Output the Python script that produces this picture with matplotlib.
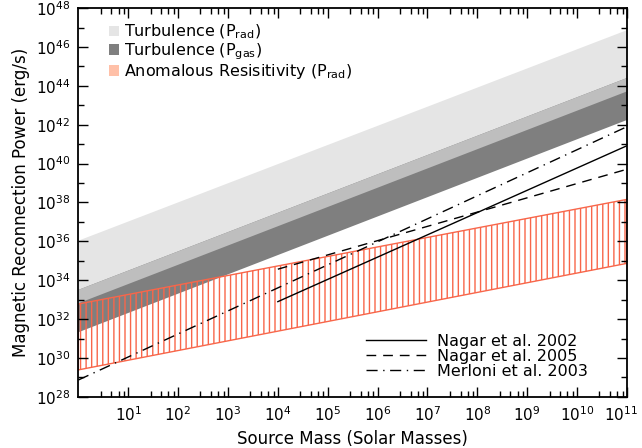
import numpy as np
import matplotlib
matplotlib.use("Agg")
import matplotlib.pyplot as plt
import matplotlib.transforms as mtransforms
from matplotlib.patches import Patch
from matplotlib.lines import Line2D
from matplotlib.ticker import LogLocator, FixedLocator, NullFormatter

# band edges, read as log10(P) at M = 1 and M = 1e11
mass_ends = [1.0, 1e11]
turb_rad_hi = [36.07, 46.9]
turb_rad_lo = [32.85, 43.75]
turb_gas_hi = [33.54, 44.44]
turb_gas_lo = [31.36, 42.28]
anom_hi = [32.78, 38.16]
anom_lo = [29.39, 34.87]

# observed correlations (log10 P)
nagar02_mass = [1e4, 1e11]
nagar02_logp = [32.90, 40.92]
nagar05_mass = [1e4, 1e11]
nagar05_logp = [34.57, 39.71]
merloni_mass = [1.0, 1e11]
merloni_logp = [28.87, 41.90]

x_labels = [r"$10^{%d}$" % k for k in range(1, 12)]
y_labels = [r"$10^{%d}$" % k for k in range(28, 49, 2)]

red = "#F8664A"
plt.rcParams["hatch.color"] = red
plt.rcParams["hatch.linewidth"] = 1.0
plt.rcParams["font.family"] = "DejaVu Sans"

fig = plt.figure(figsize=(6.42, 4.48), dpi=100)
ax = fig.add_axes([0.122, 0.114, 0.8546, 0.868])

p = lambda v: 10 ** np.array(v)

ax.fill_between(mass_ends, p(turb_rad_lo), p(turb_rad_hi), color="#E5E5E5", lw=0)
ax.fill_between(mass_ends, p(turb_gas_lo), p(turb_gas_hi), color="#7F7F7F", lw=0)
ax.fill_between(mass_ends, p(turb_rad_lo), p(turb_gas_hi), color="#BEBEBE", lw=0)
ax.fill_between(mass_ends, p(anom_lo), p(anom_hi), facecolor="none",
                edgecolor=red, hatch="|||", lw=1.0)

ax.plot(nagar02_mass, p(nagar02_logp), color="black", lw=1.0, ls="-")
ax.plot(nagar05_mass, p(nagar05_logp), color="black", lw=1.0, ls=(0, (7, 5)))
ax.plot(merloni_mass, p(merloni_logp), color="black", lw=1.0, ls=(0, (8, 4, 1, 4)))

ax.set_xscale("log")
ax.set_yscale("log")
ax.set_xlim(1, 1e11)
ax.set_ylim(1e28, 1e48)

ax.xaxis.set_major_locator(FixedLocator([10.0 ** k for k in range(1, 12)]))
ax.set_xticklabels(x_labels)
ax.xaxis.set_minor_locator(LogLocator(base=10, subs=[2.8, 4.6, 6.4, 8.2], numticks=30))
ax.xaxis.set_minor_formatter(NullFormatter())
ax.yaxis.set_major_locator(FixedLocator([10.0 ** k for k in range(28, 49, 2)]))
ax.set_yticklabels(y_labels)
ax.yaxis.set_minor_locator(FixedLocator([10.0 ** k for k in range(29, 48, 2)]))
ax.yaxis.set_minor_formatter(NullFormatter())

ax.tick_params(which="both", direction="in", top=True, right=True, width=1.0,
               labelsize=11, color="black")
ax.tick_params(which="major", length=7, pad=6)
ax.tick_params(which="minor", length=4)
for s in ax.spines.values():
    s.set_linewidth(1.3)

# nudge the last x label so it stays inside the figure
last = ax.get_xticklabels()[-1]
last.set_transform(last.get_transform() +
                   mtransforms.ScaledTranslation(-4 / 72, 0, fig.dpi_scale_trans))

ax.set_xlabel("Source Mass (Solar Masses)", fontsize=12, labelpad=4)
ax.set_ylabel("Magnetic Reconnection Power (erg/s)", fontsize=12, labelpad=4)

band_handles = [
    Patch(facecolor="#E5E5E5", edgecolor="none"),
    Patch(facecolor="#7F7F7F", edgecolor="none"),
    Patch(facecolor="#FFC0A8", edgecolor="none"),
]
band_labels = [
    r"Turbulence ($\mathregular{P_{rad}}$)",
    r"Turbulence ($\mathregular{P_{gas}}$)",
    r"Anomalous Resisitivity ($\mathregular{P_{rad}}$)",
]
leg1 = ax.legend(band_handles, band_labels, loc="upper left",
                 bbox_to_anchor=(0.044, 0.978), frameon=False, fontsize=11.5,
                 handlelength=0.65, handleheight=0.65, handletextpad=0.3,
                 labelspacing=0.0, borderaxespad=0)
ax.add_artist(leg1)

line_handles = [
    Line2D([], [], color="black", lw=1.0, ls="-"),
    Line2D([], [], color="black", lw=1.0, ls=(0, (7, 5))),
    Line2D([], [], color="black", lw=1.0, ls=(0, (8, 4, 1, 4))),
]
line_labels = ["Nagar et al. 2002", "Nagar et al. 2005", "Merloni et al. 2003"]
ax.legend(line_handles, line_labels, loc="lower left",
          bbox_to_anchor=(0.513, 0.03), frameon=False, fontsize=11.5,
          handlelength=3.75, handletextpad=0.7, labelspacing=0.0, borderaxespad=0)

fig.savefig("out.png", dpi=100)
